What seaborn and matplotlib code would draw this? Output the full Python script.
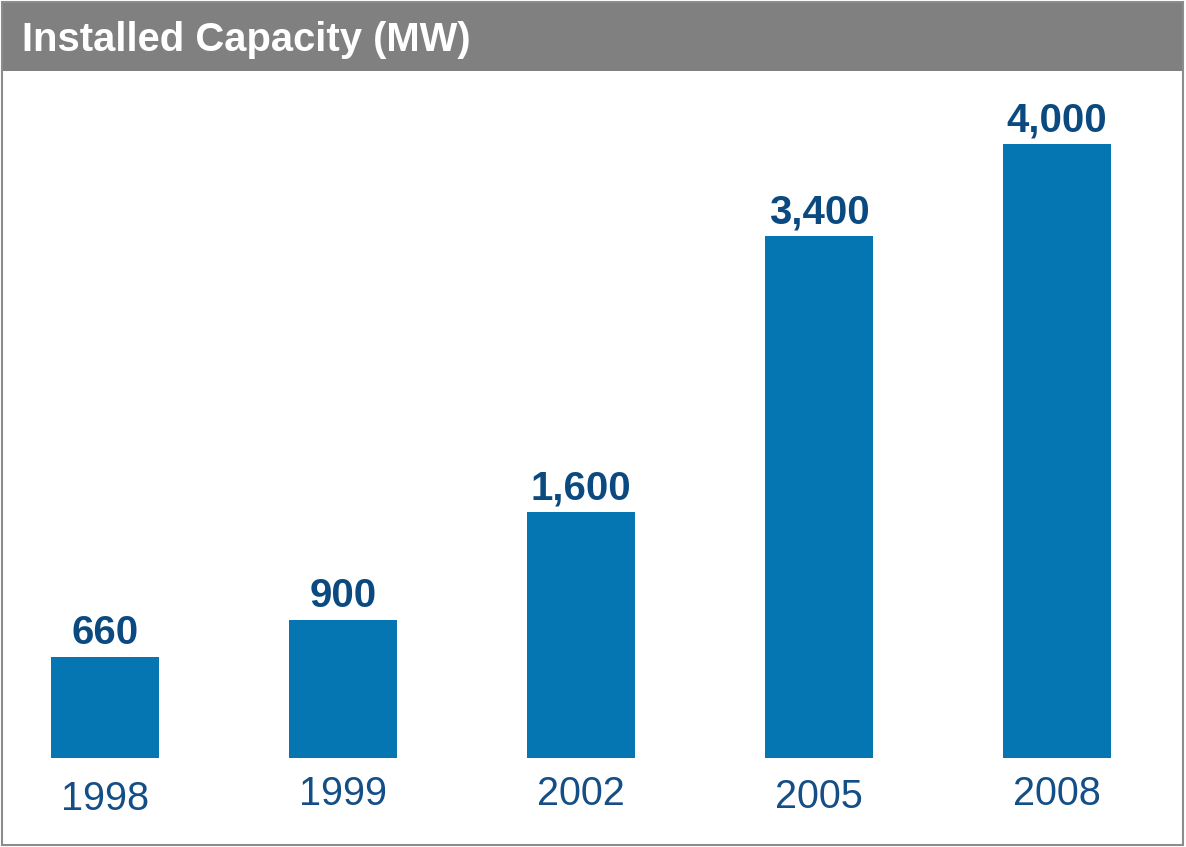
import matplotlib
matplotlib.use("Agg")
import matplotlib.pyplot as plt
import matplotlib.transforms as mtransforms
from matplotlib.patches import Rectangle
import seaborn as sns
import pandas as pd

years = ["1998", "1999", "2002", "2005", "2008"]
capacity_mw = [660, 900, 1600, 3400, 4000]
title = "Installed Capacity (MW)"

sns.set_theme(style="white")
plt.rcParams["font.family"] = ["Liberation Sans", "DejaVu Sans"]

W, H = 1186, 847
fig = plt.figure(figsize=(W / 100, H / 100), dpi=100)
fig.patch.set_facecolor("white")

# header bar and border
fig.patches.append(Rectangle((2 / W, 1 - 71 / H), 1181 / W, 69 / H, transform=fig.transFigure,
                             facecolor="#808080", edgecolor="none", zorder=0))
fig.patches.append(Rectangle((2 / W, 2 / H), 1181 / W, 843 / H, transform=fig.transFigure,
                             facecolor="none", edgecolor="#8c8c8c", linewidth=1.5, zorder=5))
fig.text(22 / W, 1 - 40 / H, title, color="white", fontsize=28.8, fontweight="bold",
         ha="left", va="center")

bottom_px = 89
top_px = 777
ax = fig.add_axes([2 / W, bottom_px / H, 1181 / W, (top_px - bottom_px) / H])
df = pd.DataFrame({"year": years, "mw": capacity_mw})
sns.barplot(data=df, x="year", y="mw", order=years, color="#0676B3", saturation=1,
            width=0.454, ax=ax, edgecolor="none")

ax.set_xlim((2 - 105) / 238, (1183 - 105) / 238)
ax.set_ylim(0, (top_px - bottom_px) / 0.1535)
ax.set_facecolor("none")
for s in ax.spines.values():
    s.set_visible(False)
ax.set_yticks([])
ax.set_xlabel("")
ax.set_ylabel("")
ax.tick_params(axis="x", length=0, pad=12, labelsize=28.5, labelcolor="#144E86")

# slight vertical stagger of year labels as in the reference
nudge = [-5, 0, 0, -3, 0]
for lbl, dy in zip(ax.get_xticklabels(), nudge):
    lbl.set_transform(lbl.get_transform() + mtransforms.Affine2D().translate(0, dy))

ax.bar_label(ax.containers[0], labels=[f"{v:,}" for v in capacity_mw], padding=3.5,
             fontsize=29, fontweight="bold", color="#0B4A80")

fig.savefig("out.png", dpi=100, facecolor="white")
